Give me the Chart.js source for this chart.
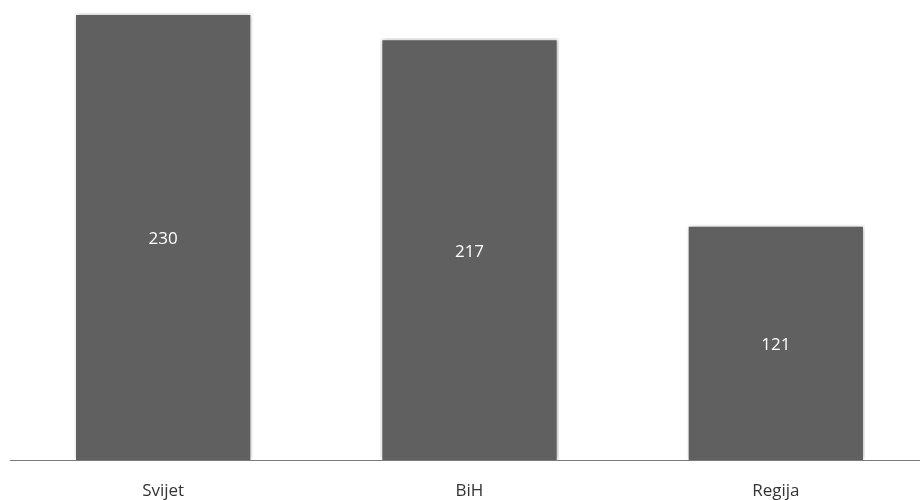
<!DOCTYPE html>
<html lang="bs">
<head>
    <meta charset="UTF-8">
    <title>Svijet / BiH / Regija</title>
    <script src="https://cdn.jsdelivr.net/npm/chart.js"></script>
    <style>
        html, body { margin: 0; padding: 0; background: #fff; overflow: hidden; }
        #wrap { width: 929px; height: 500px; }
    </style>
</head>
<body>
    <div id="wrap">
        <canvas id="barChart" width="929" height="500"></canvas>
    </div>

    <script>
        const categories = ['Svijet', 'BiH', 'Regija'];
        const values = [230, 217, 121];

        // white value labels in the middle of each bar
        const valueLabels = {
            id: 'valueLabels',
            afterDatasetsDraw(chart) {
                const ctx = chart.ctx;
                const meta = chart.getDatasetMeta(0);
                ctx.save();
                ctx.fillStyle = '#ffffff';
                ctx.font = '17px "Open Sans", sans-serif';
                ctx.textAlign = 'center';
                ctx.textBaseline = 'middle';
                meta.data.forEach((bar, i) => {
                    const mid = (bar.y + bar.base) / 2;
                    ctx.fillText(values[i], bar.x, mid + 3);
                });
                ctx.restore();
            }
        };

        // soft shadow round the bars
        const barShadow = {
            id: 'barShadow',
            beforeDatasetsDraw(chart) {
                const ctx = chart.ctx;
                ctx.save();
                ctx.shadowColor = 'rgba(0,0,0,0.3)';
                ctx.shadowBlur = 5;
                ctx.shadowOffsetX = 1;
                ctx.shadowOffsetY = 0;
            },
            afterDatasetsDraw(chart) {
                chart.ctx.restore();
            }
        };

        const ctx = document.getElementById('barChart').getContext('2d');
        const barChart = new Chart(ctx, {
            type: 'bar',
            data: {
                labels: categories,
                datasets: [{
                    data: values,
                    backgroundColor: '#606060',
                    borderColor: '#ffffff',
                    borderWidth: 2,
                    barPercentage: 0.582,
                    categoryPercentage: 1
                }]
            },
            options: {
                responsive: false,
                animation: false,
                layout: { padding: { left: 10, right: 0, top: 0, bottom: 0 } },
                plugins: {
                    legend: { display: false },
                    tooltip: { enabled: false }
                },
                scales: {
                    x: {
                        grid: { display: false, drawTicks: false },
                        border: { display: true, color: '#7a7a7a', width: 1 },
                        ticks: {
                            color: '#333333',
                            padding: 21,
                            font: { family: '"Open Sans", sans-serif', size: 17 }
                        },
                        afterFit(scale) { scale.height = 40; }
                    },
                    y: {
                        display: false,
                        min: 0,
                        max: 236.7
                    }
                }
            },
            plugins: [barShadow, valueLabels]
        });
    </script>
</body>
</html>
